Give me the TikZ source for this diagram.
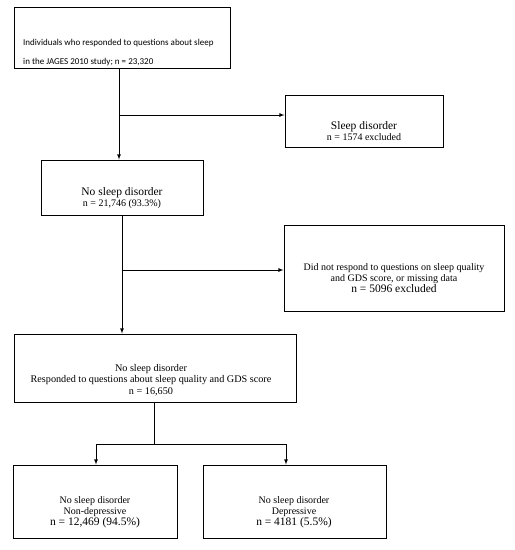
\documentclass[tikz,border=0pt]{standalone}
\usepackage{fontspec}
\setmainfont{Liberation Serif}
\newfontfamily\calibri{Carlito}
\usepackage{tikz}

\begin{document}
\begin{tikzpicture}[x=1pt,y=-1pt,>=latex,
  box/.style={draw,line width=1pt,inner sep=0pt},
  txt/.style={align=center,inner sep=0pt,font=\fontsize{10}{11}\selectfont}]
\useasboundingbox (0,0) rectangle (515,550);

\node [box,minimum width=216,minimum height=61] (start) at (122,37.5) {};
\node [txt,anchor=west,align=left,font=\calibri\fontsize{9}{19}\selectfont] (starttext) at (23,53) {Individuals who responded to questions about sleep\\in the JAGES 2010 study; n = 23,320};

\node [box,minimum width=158,minimum height=52] (sleep) at (364,121) {};
\node [txt] (sleeptext) at (364,131.5) {{\fontsize{11.5}{11}\selectfont Sleep disorder}\\n = 1574 excluded};

\node [box,minimum width=162,minimum height=55] (nosleep) at (122,187.5) {};
\node [txt] (nosleeptext) at (122,198) {{\fontsize{11.5}{11}\selectfont No sleep disorder}\\n = 21,746 (93.3\%)};

\node [box,minimum width=220,minimum height=86] (missing) at (394,268) {};
\node [txt] (missingtext) at (394,278) {Did not respond to questions on sleep quality\\and GDS score, or missing data\\{\fontsize{11.5}{11}\selectfont n = 5096 excluded}};

\node [box,minimum width=282,minimum height=68] (analysed) at (155,368) {};
\node [txt,font=\fontsize{10.2}{11.5}\selectfont] (analysedtext) at (151,380) {No sleep disorder\\Responded to questions about sleep quality and GDS score\\n = 16,650};

\node [box,minimum width=164,minimum height=73] (nondep) at (95,501.5) {};
\node [txt] (nondeptext) at (95,512) {No sleep disorder\\Non-depressive\\{\fontsize{11.5}{11}\selectfont n = 12,469 (94.5\%)}};

\node [box,minimum width=183,minimum height=73] (dep) at (294.5,501.5) {};
\node [txt] (deptext) at (294,512) {No sleep disorder\\Depressive\\{\fontsize{11.5}{11}\selectfont n = 4181 (5.5\%)}};

% exclusions
\coordinate (split1) at (119,115);
\coordinate (split2) at (122,270);
\draw [thick] (start.south -| split1) -- (split1);
\draw [->,thick] (split1) -- (nosleep.north -| split1);
\draw [->,thick] (split1) -- (split1 -| sleep.west);
\draw [thick] (nosleep.south -| split2) -- (split2);
\draw [->,thick] (split2) -- (analysed.north -| split2);
\draw [->,thick] (split2) -- (split2 -| missing.west);

% depressive or not
\coordinate (fork) at (154,444);
\coordinate (forkleft) at (96,444);
\coordinate (forkright) at (286,444);
\draw [thick] (analysed.south -| fork) -- (fork);
\draw [thick] (forkleft) -- (forkright);
\draw [->,thick] (forkleft) -- (forkleft |- nondep.north);
\draw [->,thick] (forkright) -- (forkright |- dep.north);

\end{tikzpicture}
\end{document}
